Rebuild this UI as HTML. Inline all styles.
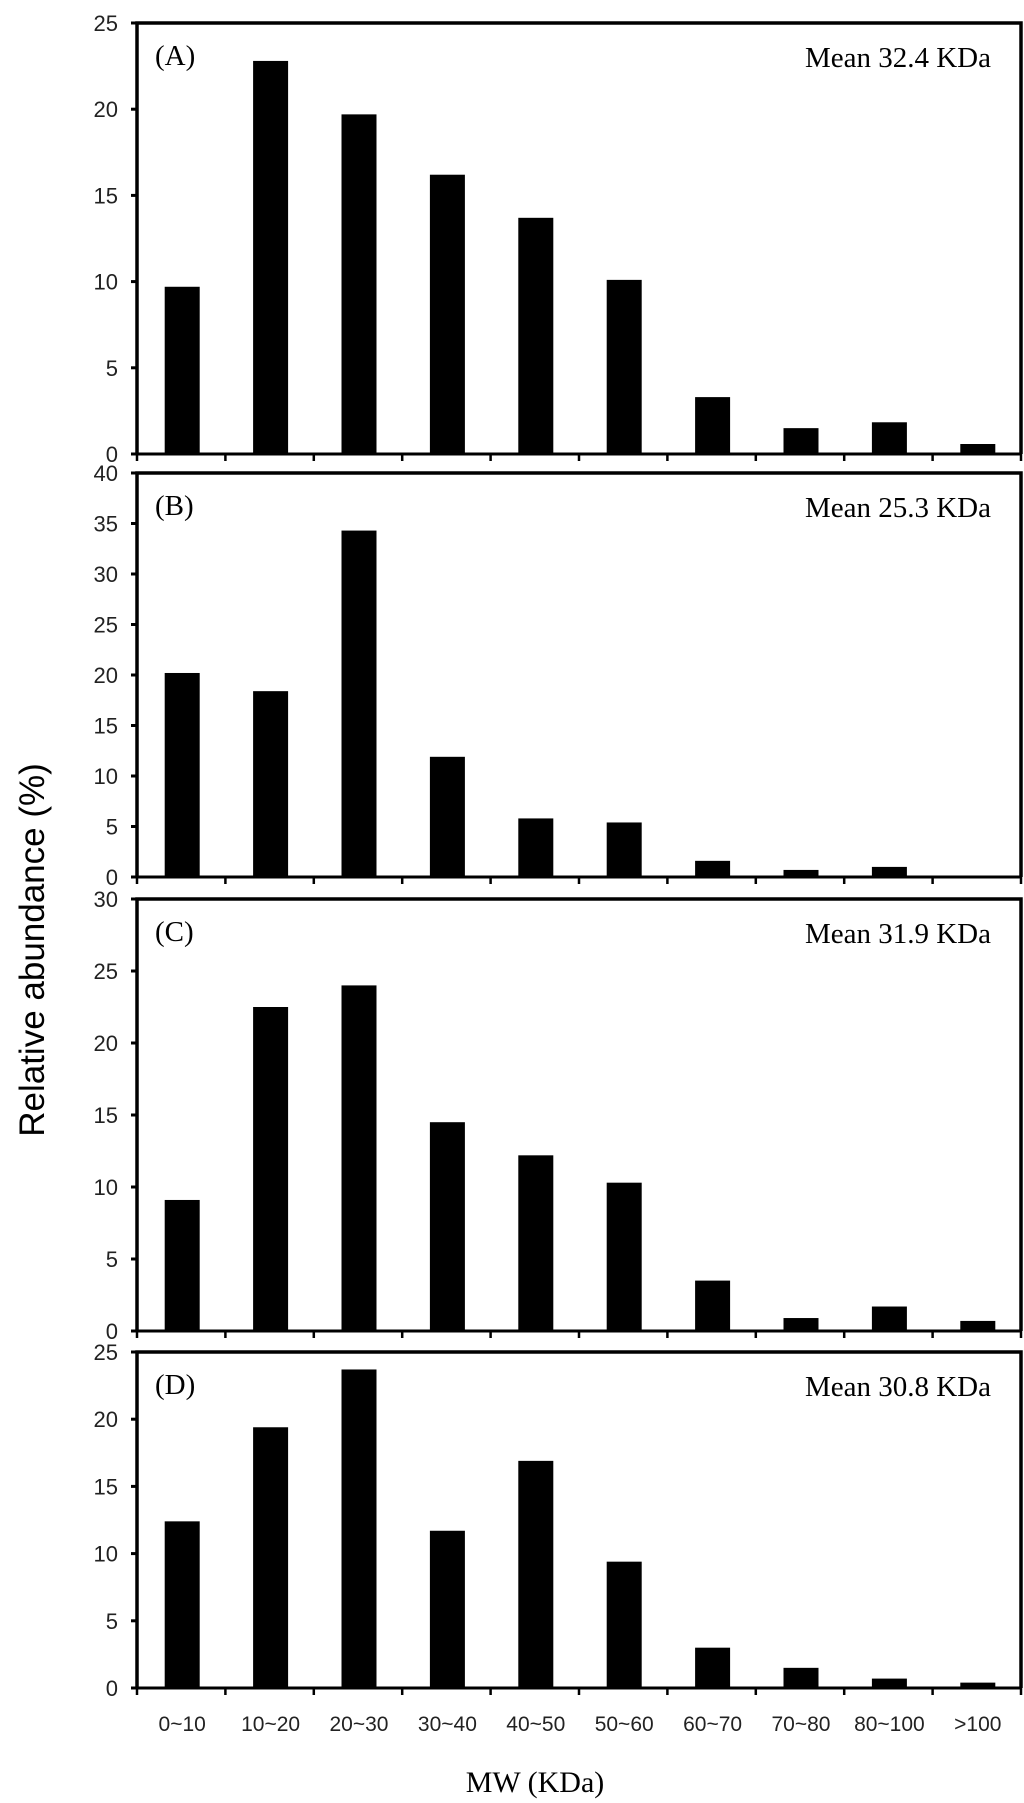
<!DOCTYPE html>
<html><head><meta charset="utf-8"><style>
html,body{margin:0;padding:0;background:#fff;}
svg{display:block;}
</style></head><body>
<svg id="chart" width="1024" height="1803" viewBox="0 0 1024 1803" xmlns="http://www.w3.org/2000/svg">
<text x="0" y="0" transform="translate(44,950) rotate(-90)" text-anchor="middle" font-family="Liberation Sans, sans-serif" font-size="35">Relative abundance (%)</text>
<text x="535" y="1792" text-anchor="middle" font-family="Liberation Serif, serif" font-size="30">MW  (KDa)</text>
</svg>
<script>
const categories = ["0~10","10~20","20~30","30~40","40~50","50~60","60~70","70~80","80~100",">100"];
const seriesA = [9.7,22.8,19.7,16.2,13.7,10.1,3.3,1.5,1.84,0.58];
const seriesB = [20.2,18.4,34.3,11.9,5.8,5.4,1.6,0.7,1.0,0.1];
const seriesC = [9.1,22.5,24.0,14.5,12.2,10.3,3.5,0.9,1.7,0.7];
const seriesD = [12.4,19.4,23.7,11.7,16.9,9.4,3.0,1.5,0.7,0.4];
const panelLabels = ["(A)","(B)","(C)","(D)"];
const meanLabels = ["Mean 32.4 KDa","Mean 25.3 KDa","Mean 31.9 KDa","Mean 30.8 KDa"];
const yMaxes = [25,40,30,25];
const yTickStep = 5;

const NS = "http://www.w3.org/2000/svg";
const svg = document.getElementById("chart");
const left = 137, right = 1021;
const panelsGeom = [[23,454],[473,877],[899,1331],[1352,1688]];
const allSeries = [seriesA,seriesB,seriesC,seriesD];
const catW = (right-left)/categories.length;
const barW = 35;

function mk(tag, attrs){ const e=document.createElementNS(NS,tag); for(const k in attrs) e.setAttribute(k,attrs[k]); return e; }

allSeries.forEach((vals, p) => {
  const [top, zero] = panelsGeom[p];
  const yMax = yMaxes[p];
  const yScale = v => zero - (v / yMax) * (zero - top);
  const xScale = i => left + catW * i;
  const g = mk("g", {});
  
  
  svg.appendChild(g);
  vals.forEach((v, i) => {
    const y = yScale(v);
    const r = mk("rect", {x: xScale(i) + catW/2 - barW/2 + 1, y: y, width: barW, height: zero - y, fill: "#000"});
    
    
    g.appendChild(r);
  });
  const frame = mk("path", {d: `M${left},${zero} L${left},${top} L${right},${top} L${right},${zero}`, fill:"none", stroke:"#000", "stroke-width":3.5});
  
  
  g.appendChild(frame);
  const xAxis = mk("line", {x1:left-5, y1:zero, x2:right, y2:zero, stroke:"#000", "stroke-width":3});
  
  
  g.appendChild(xAxis);
  for (let i = 0; i <= categories.length; i++) {
    const t = mk("line", {x1:xScale(i), y1:zero, x2:xScale(i), y2:zero+7, stroke:"#000", "stroke-width":2.5});
    
    
    g.appendChild(t);
  }
  for (let v = 0; v <= yMax; v += yTickStep) {
    const y = yScale(v);
    const t = mk("line", {x1:left-6, y1:y, x2:left, y2:y, stroke:"#000", "stroke-width":3});
    
    
    g.appendChild(t);
    const lb = mk("text", {x:118, y:y+8, "text-anchor":"end", "font-family":"Liberation Sans, sans-serif", "font-size":22, fill:"#222"});
    lb.textContent = v;
    
    
    g.appendChild(lb);
  }
  const pl = mk("text", {x:155, y:top+42, "font-family":"Liberation Serif, serif", "font-size":29});
  pl.textContent = panelLabels[p];
  
  
  g.appendChild(pl);
  const ml = mk("text", {x:991, y:top+44, "text-anchor":"end", "font-family":"Liberation Serif, serif", "font-size":29});
  ml.textContent = meanLabels[p];
  
  
  g.appendChild(ml);
  if (p === 3) {
    categories.forEach((c, i) => {
      const t = mk("text", {x: xScale(i)+catW/2+1, y: 1731, "text-anchor":"middle", "font-family":"Liberation Sans, sans-serif", "font-size":21, fill:"#222"});
      t.textContent = c;
      
      
      g.appendChild(t);
    });
  }
});
</script>
</body></html>
